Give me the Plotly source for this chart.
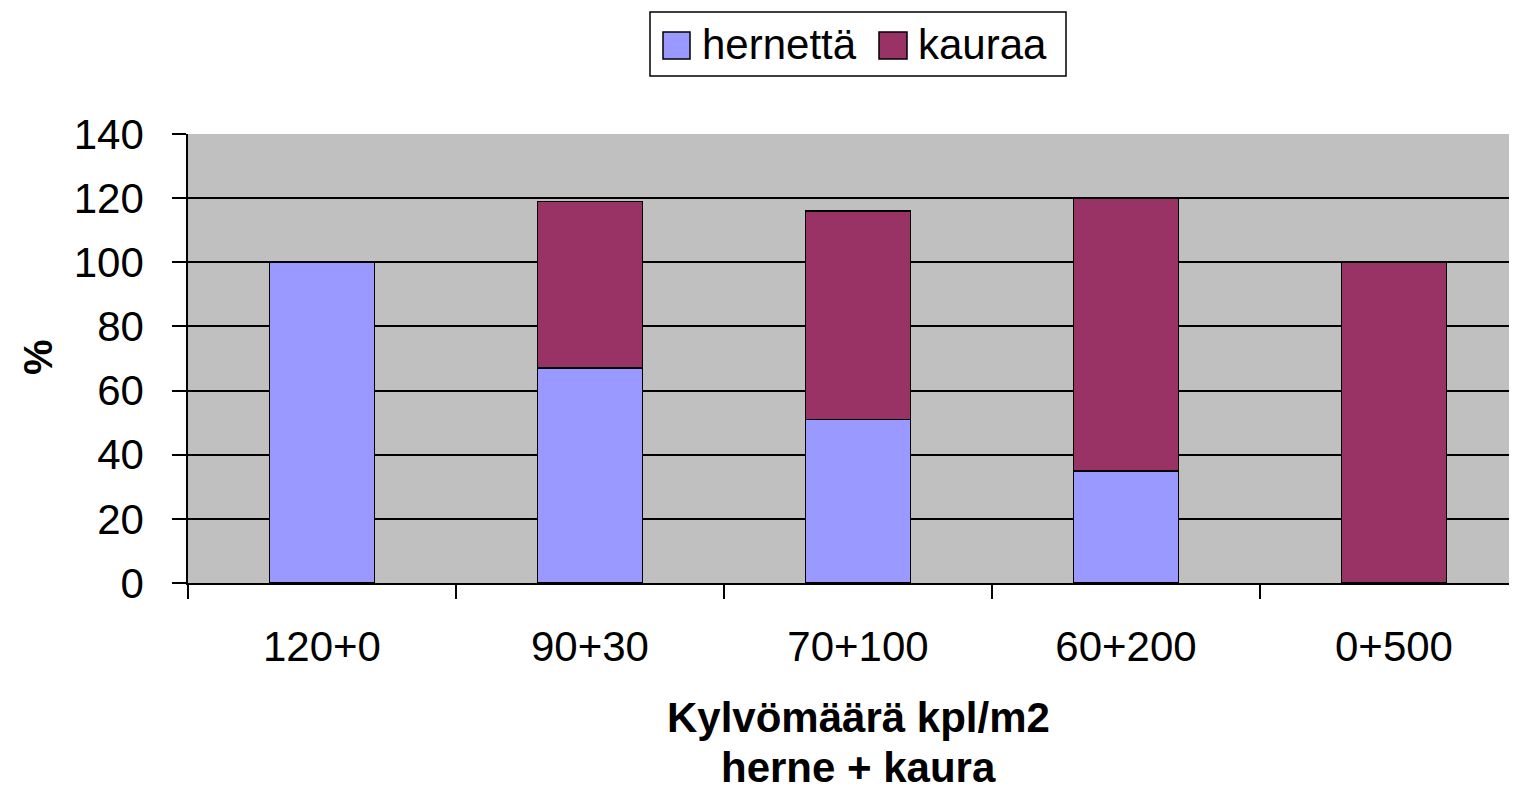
import plotly.graph_objects as go

categories = ["120+0", "90+30", "70+100", "60+200", "0+500"]
herne = [100, 67, 51, 35, 0]
kaura = [0, 52, 65, 85, 100]
series_names = ["hernettä", "kauraa"]
x_title_lines = ["Kylvömäärä kpl/m2", "herne + kaura"]
y_ticks = [0, 20, 40, 60, 80, 100, 120, 140]

HERNE_COLOR = "#9999FF"
KAURA_COLOR = "#993366"
FONT = "Liberation Sans, Arial, sans-serif"

# page body margin offset (figure is drawn 8px in from the window corner)
OFF = 8
W, H = 1517 - OFF, 793 - OFF
L, T, B_PX = 188 - OFF, 134 - OFF, 583 - OFF
R_PX = W
PW, PH = R_PX - L, B_PX - T


def px(x):
    # x given in window pixels
    return (x - OFF - L) / PW


def py(y):
    # y given in window pixels
    return (B_PX - (y - OFF)) / PH


fig = go.Figure()
fig.add_trace(go.Bar(x=categories, y=herne, name=series_names[0],
                     marker=dict(color=HERNE_COLOR, line=dict(color="black", width=1.5)),
                     showlegend=False))
fig.add_trace(go.Bar(x=categories, y=kaura, name=series_names[1],
                     marker=dict(color=KAURA_COLOR, line=dict(color="black", width=1.5)),
                     showlegend=False))

cat_w = 268.0
x_max = -0.5 + PW / cat_w

fig.update_layout(
    width=W, height=H,
    barmode="stack",
    bargap=0.61,
    margin=dict(l=L, r=W - R_PX, t=T, b=H - B_PX, autoexpand=False),
    paper_bgcolor="white",
    plot_bgcolor="#C0C0C0",
    font=dict(family=FONT, size=42, color="black"),
    xaxis=dict(
        type="category",
        range=[-0.5, x_max],
        showgrid=False,
        showline=True, linecolor="black", linewidth=1.5,
        ticks="outside", tickson="boundaries", ticklen=14, tickwidth=1.5, tickcolor="black",
        tickfont=dict(size=42, family=FONT),
        ticklabelstandoff=26,
        zeroline=False,
    ),
    yaxis=dict(
        range=[0, 140],
        tickvals=y_ticks,
        showgrid=True, gridcolor="black", gridwidth=1.5,
        showline=True, linecolor="black", linewidth=1.5,
        ticks="outside", ticklen=14, tickwidth=1.5, tickcolor="black",
        tickfont=dict(size=42, family=FONT),
        ticklabelstandoff=20,
        zeroline=False,
    ),
)

# Axis titles
for line, yc in zip(x_title_lines, [717, 767]):
    fig.add_annotation(x=px(858), y=py(yc), xref="paper", yref="paper",
                       text="<b>" + line + "</b>", borderpad=0,
                       showarrow=False, xanchor="center", yanchor="middle",
                       font=dict(size=42, family=FONT))
fig.add_annotation(x=px(38), y=py(357), xref="paper", yref="paper",
                   text="<b>%</b>", textangle=-90,
                   showarrow=False, xanchor="center", yanchor="middle",
                   font=dict(size=40, family=FONT))

# Legend (box, swatches, labels)
fig.add_shape(type="rect", xref="paper", yref="paper",
              x0=px(650), x1=px(1066), y0=py(12), y1=py(76),
              line=dict(color="black", width=1.5), fillcolor="white", layer="above")
legend_items = [(663, 690, 700, HERNE_COLOR, series_names[0]),
                (879, 907, 916, KAURA_COLOR, series_names[1])]
for x0, x1, tx, col, name in legend_items:
    fig.add_shape(type="rect", xref="paper", yref="paper",
                  x0=px(x0), x1=px(x1), y0=py(32), y1=py(59),
                  line=dict(color="black", width=1.5), fillcolor=col, layer="above")
    fig.add_annotation(x=px(tx), y=py(44), xref="paper", yref="paper",
                       text=name, showarrow=False, xanchor="left", yanchor="middle",
                       font=dict(size=42, family=FONT))

fig.write_html("out.html")
